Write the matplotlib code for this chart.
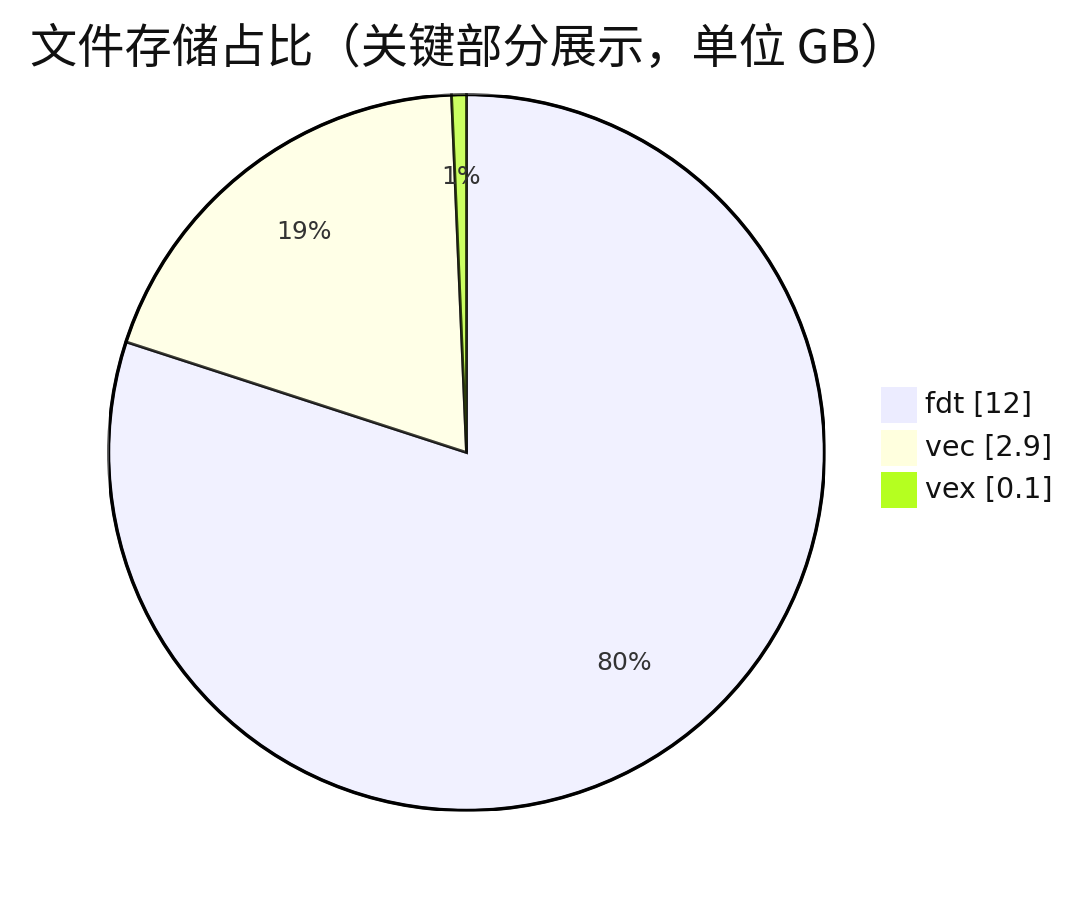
import matplotlib
matplotlib.use("Agg")
import matplotlib.pyplot as plt
from matplotlib.patches import Rectangle

plt.rcParams['font.family'] = ['Noto Sans CJK SC', 'DejaVu Sans']

title = "文件存储占比（关键部分展示，单位 GB）"
labels = ["fdt", "vec", "vex"]
values = [12, 2.9, 0.1]
legend_colors = ["#ECECFF", "#FFFFDE", "#B5FF20"]

W, H = 1080, 908
fig = plt.figure(figsize=(W / 100, H / 100), dpi=100)
fig.patch.set_facecolor("white")

# pie axes: center (466,452), radius 358 px
cx, cy, r = 466.5, 452.5, 358
ax = fig.add_axes([(cx - r) / W, (H - cy - r) / H, 2 * r / W, 2 * r / H])

wedges, texts, autotexts = ax.pie(
    values, colors=legend_colors, startangle=90, counterclock=False,
    radius=1.0, autopct=lambda p: f"{p:.0f}%", pctdistance=0.75,
    wedgeprops=dict(edgecolor="black", linewidth=2.0, alpha=0.7),
    textprops=dict(color="#333333", fontsize=18, family=["DejaVu Sans"]),
)
for w in wedges:
    w.set_edgecolor((0, 0, 0, 1))
for t in autotexts:
    t.set_va("baseline")
circle = plt.Circle((0, 0), 1.0, fill=False, edgecolor="black", linewidth=2.5)
ax.add_patch(circle)
ax.set_xlim(-1.0, 1.0)
ax.set_ylim(-1.0, 1.0)
ax.set_aspect("equal")
ax.axis("off")

fig.text(30 / W, 1 - 50 / H, title, fontsize=34, ha="left", va="center",
         color="#111111")

# legend
sq = 36
for i, (lab, val, col) in enumerate(zip(labels, values, legend_colors)):
    top = 387 + i * 42.5
    fig.patches.append(Rectangle((881 / W, 1 - (top + sq) / H), sq / W, sq / H,
                                 transform=fig.transFigure, facecolor=col,
                                 edgecolor="none"))
    fig.text(925 / W, 1 - (top + sq / 2) / H, f"{lab} [{val:g}]", fontsize=20.5,
             ha="left", va="center", color="#111111", family=["DejaVu Sans"])

fig.savefig("out.png", dpi=100, facecolor="white")
